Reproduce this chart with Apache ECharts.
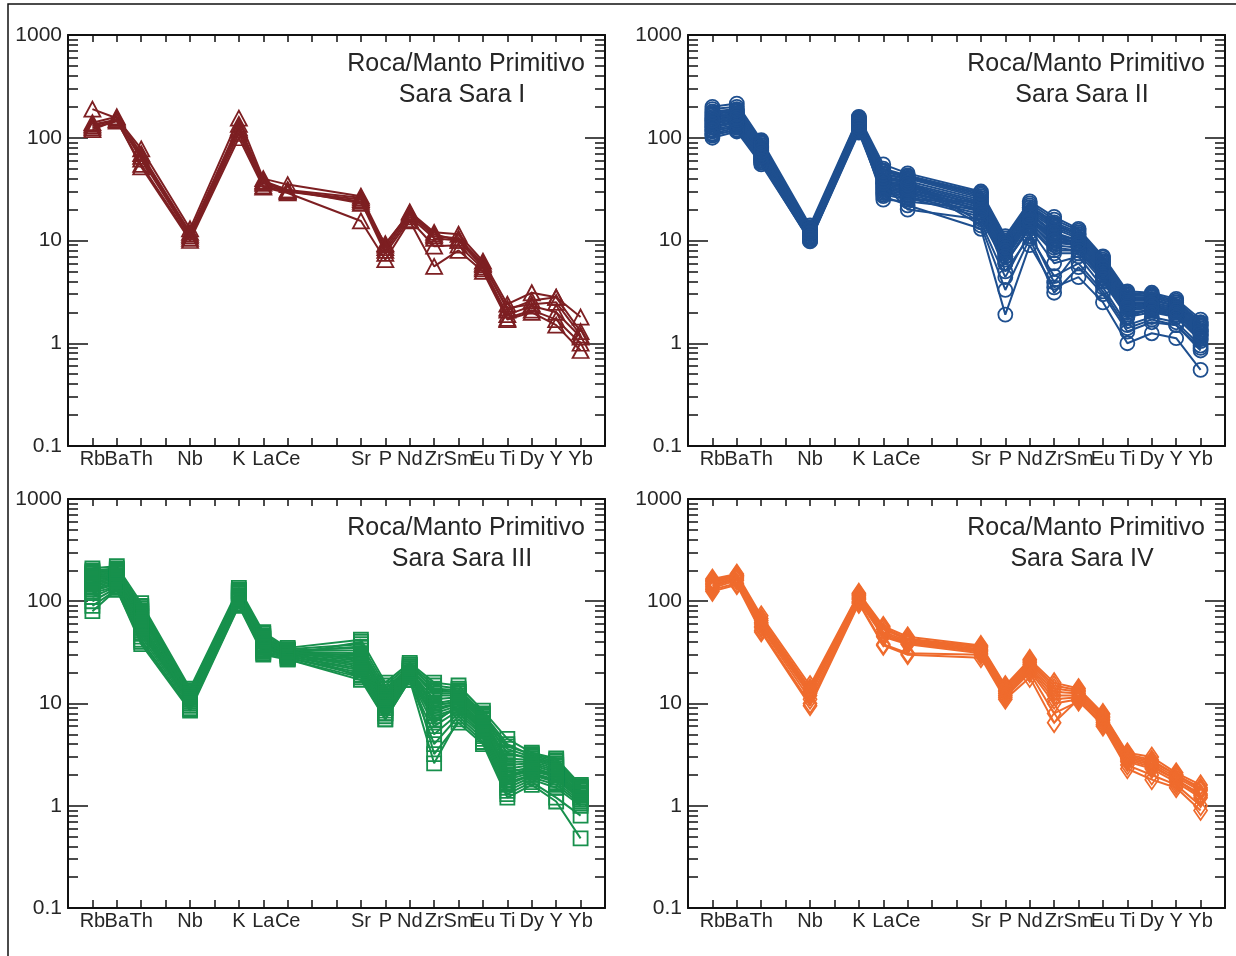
<!DOCTYPE html>
<html>
<head>
<meta charset="utf-8">
<title>Roca/Manto Primitivo - Sara Sara</title>
<script src="https://cdn.jsdelivr.net/npm/echarts@6/dist/echarts.min.js"></script>
<style>
    html, body { margin: 0; padding: 0; background: #fff; }
    #chart { width: 1236px; height: 956px; }
</style>
</head>
<body>
<div id="chart"></div>
<script>
"use strict";

// x axis: every element gets a tick, only some get a label
var elements = ['Rb', 'Ba', 'Th', 'U', 'Nb', 'Ta', 'K', 'La', 'Ce', 'Pb', 'Pr', 'Sr', 'P', 'Nd', 'Zr', 'Sm', 'Eu', 'Ti', 'Dy', 'Y', 'Yb'];
var tickLabels = ['Rb', 'Ba', 'Th', '', 'Nb', '', 'K', 'La', 'Ce', '', '', 'Sr', 'P', 'Nd', 'Zr', 'Sm', 'Eu', 'Ti', 'Dy', 'Y', 'Yb'];
// elements that have values in each sample row (same order as the rows)
var plotted = ['Rb', 'Ba', 'Th', 'Nb', 'K', 'La', 'Ce', 'Sr', 'P', 'Nd', 'Zr', 'Sm', 'Eu', 'Ti', 'Dy', 'Y', 'Yb'];
var yMin = 0.1;
var yMax = 1000;

var titleLine1 = 'Roca/Manto Primitivo';
var titles = ['Sara Sara I', 'Sara Sara II', 'Sara Sara III', 'Sara Sara IV'];

// Roca / manto primitivo, una fila por muestra
var saraI = [
    [190, 155, 78, 13, 155, 40, 35, 27, 9, 19, 12, 11.5, 6.3, 2.4, 3.1, 2.8, 1.8],
    [140, 160, 70, 12, 135, 38, 31, 26, 8.5, 18, 11, 10.5, 6, 2.1, 2.6, 2.8, 1.3],
    [130, 150, 62, 11, 120, 36, 30, 25, 8, 17, 10.5, 10, 5.5, 1.9, 2.3, 2.0, 1.15],
    [125, 145, 55, 10.5, 110, 34, 30, 24, 7.5, 16, 8.8, 9, 5.3, 1.75, 2.1, 1.7, 1.0],
    [120, 148, 52, 10, 100, 33, 29, 15.5, 6.5, 15.5, 5.6, 8, 5, 1.7, 2.0, 1.5, 0.85],
    [135, 150, 66, 11.5, 125, 37, 31, 23, 9.3, 18.5, 11.5, 10, 5.8, 2.2, 2.4, 2.5, 1.2]
];
var saraII = [
    [200, 215, 95, 14, 160, 55, 45, 30, 11, 24, 17, 13, 7, 3.2, 3.1, 2.7, 1.7],
    [180, 190, 90, 13.5, 155, 48, 42, 28, 10, 22, 15, 12, 6.5, 3.0, 2.9, 2.5, 1.6],
    [170, 180, 85, 13, 150, 45, 40, 26, 9.5, 21, 14, 11.5, 6.2, 2.8, 2.8, 2.4, 1.5],
    [160, 170, 80, 12.5, 145, 42, 38, 25, 9, 20, 13.5, 11, 6, 2.7, 2.7, 2.3, 1.5],
    [150, 165, 78, 12, 140, 40, 36, 24, 8.5, 19, 13, 10.5, 5.8, 2.6, 2.6, 2.3, 1.45],
    [145, 160, 75, 12, 138, 38, 35, 23, 8.5, 18.5, 12, 10, 5.6, 2.5, 2.5, 2.2, 1.4],
    [140, 155, 72, 11.5, 135, 37, 34, 22, 8, 18, 11.5, 10, 5.5, 2.4, 2.5, 2.2, 1.35],
    [135, 150, 70, 11.5, 132, 36, 33, 22, 8, 17, 11, 9.5, 5.3, 2.4, 2.4, 2.1, 1.3],
    [130, 145, 68, 11, 130, 35, 32, 21, 7.5, 17, 10.5, 9.5, 5.2, 2.3, 2.4, 2.1, 1.3],
    [125, 140, 66, 11, 128, 34, 31, 21, 7.5, 16, 10, 9, 5, 2.2, 2.3, 2.0, 1.25],
    [120, 135, 64, 10.8, 125, 33, 30, 20, 7, 16, 9.5, 9, 4.8, 2.2, 2.3, 2.0, 1.2],
    [115, 130, 62, 10.5, 122, 32, 29, 20, 7, 15, 9, 8.5, 4.6, 2.1, 2.2, 1.9, 1.2],
    [110, 125, 60, 10.5, 120, 31, 28, 19, 6.5, 15, 8.5, 8, 4.5, 2.0, 2.1, 1.9, 1.15],
    [105, 120, 58, 10, 118, 30, 27, 18, 6, 14, 8, 8, 4.3, 1.9, 2.1, 1.8, 1.1],
    [100, 115, 55, 10, 115, 29, 26, 17, 6, 13.5, 7.5, 7.5, 4, 1.8, 2.0, 1.8, 1.05],
    [190, 200, 92, 13, 158, 50, 43, 29, 10.5, 23, 16, 12.5, 6.8, 3.1, 3.0, 2.6, 1.6],
    [165, 175, 82, 12.5, 148, 44, 39, 15, 4.4, 12, 3.9, 8, 4.2, 1.8, 2.2, 2.0, 1.1],
    [155, 168, 76, 12, 142, 41, 37, 14, 3.3, 10.5, 3.1, 5.5, 3, 1.3, 1.6, 1.5, 0.9],
    [118, 128, 60, 10, 118, 27, 22, 13, 1.9, 9, 3.5, 4.4, 2.5, 1.0, 1.25, 1.12, 0.55],
    [138, 150, 70, 11, 133, 36, 20, 16, 6, 13, 6, 7, 3.5, 1.5, 1.8, 1.6, 0.95],
    [128, 142, 65, 10.5, 127, 25, 24, 20, 5, 11, 4.5, 6, 3.2, 1.4, 1.7, 1.5, 0.85],
    [175, 185, 88, 13, 152, 47, 41, 27, 9.5, 21, 14.5, 11.5, 6.3, 2.9, 2.9, 2.5, 1.55],
    [108, 118, 57, 9.8, 112, 28, 25, 24, 7, 15.5, 12, 9, 5, 2.2, 2.2, 2.0, 1.2],
    [147, 158, 74, 11.8, 137, 38, 35, 19, 8, 17, 10, 9.5, 5.4, 2.3, 2.4, 2.1, 1.3]
];
var saraIII = [
    [210, 220, 96, 14, 135, 50, 35, 42, 16, 25, 16, 15, 8.5, 4.5, 3.3, 2.9, 1.6],
    [200, 210, 90, 13.5, 130, 48, 34, 38, 15, 24, 15, 14, 8, 4, 3.1, 2.7, 1.55],
    [190, 200, 85, 13, 128, 46, 33, 35, 14, 23, 14, 13.5, 7.8, 3.6, 3.0, 2.6, 1.5],
    [180, 190, 80, 12.5, 125, 44, 33, 33, 13, 22, 13, 13, 7.5, 3.2, 2.9, 2.5, 1.5],
    [170, 180, 75, 12, 122, 42, 32, 31, 12, 22, 12, 12, 7.2, 2.9, 2.8, 2.4, 1.45],
    [160, 175, 70, 12, 120, 40, 32, 29, 11, 21, 11, 11.5, 7, 2.7, 2.7, 2.3, 1.4],
    [155, 170, 66, 11.5, 118, 39, 31, 28, 10.5, 21, 10, 11, 6.8, 2.5, 2.6, 2.2, 1.35],
    [150, 165, 62, 11, 115, 38, 31, 26, 10, 20, 9.5, 10.5, 6.5, 2.3, 2.5, 2.1, 1.3],
    [145, 160, 58, 11, 112, 37, 30, 25, 9.5, 20, 9, 10, 6.2, 2.1, 2.4, 2.0, 1.3],
    [140, 155, 55, 10.5, 110, 36, 30, 24, 9, 19, 8.5, 10, 6, 2.0, 2.3, 2.0, 1.25],
    [135, 150, 52, 10.5, 108, 35, 30, 23, 9, 19, 8, 9.5, 5.8, 1.9, 2.2, 1.9, 1.2],
    [130, 145, 50, 10, 105, 35, 29, 22, 8.5, 18, 7.5, 9, 5.5, 1.8, 2.1, 1.8, 1.2],
    [120, 140, 48, 10, 102, 34, 29, 21, 8, 18, 7, 9, 5.3, 1.7, 2.0, 1.8, 1.15],
    [110, 140, 45, 9.5, 100, 33, 28, 20, 8, 18, 6, 8.5, 5, 1.6, 2.0, 1.7, 1.1],
    [100, 135, 42, 9, 96, 32, 28, 19, 7.5, 17, 5, 8, 4.8, 1.5, 1.9, 1.6, 1.05],
    [90, 130, 40, 8.8, 92, 31, 27, 18, 7, 17, 4, 7.5, 4.5, 1.4, 1.8, 1.5, 1.0],
    [80, 130, 38, 8.5, 90, 30, 27, 17, 7, 17, 2.6, 7, 4.2, 1.3, 1.7, 1.2, 0.8],
    [175, 185, 78, 12, 124, 43, 32, 36, 12, 23, 3.2, 6.5, 4, 1.2, 1.6, 1.1, 0.48],
    [165, 178, 72, 11.5, 121, 41, 31, 30, 11.5, 22, 12.5, 12.5, 7.5, 3.8, 3.2, 2.8, 1.6],
    [125, 148, 60, 10.5, 107, 36, 30, 40, 8, 20, 10, 10, 6.3, 2.2, 2.3, 2.0, 1.3],
    [195, 205, 88, 13, 127, 45, 33, 18, 14, 21, 6.5, 9.5, 5.5, 2.0, 2.2, 2.0, 1.2],
    [185, 195, 82, 12.5, 126, 43, 32, 27, 12.5, 24, 13.5, 13, 7.5, 3.3, 2.9, 2.5, 1.5]
];
var saraIV = [
    [165, 185, 72, 15, 120, 57, 45, 37, 15, 27, 16, 14, 8, 3.3, 3.0, 2.1, 1.6],
    [160, 180, 68, 14, 117, 55, 43, 36, 14.5, 26, 15, 13.5, 7.8, 3.2, 2.8, 2.0, 1.5],
    [155, 178, 65, 13.5, 114, 53, 42, 35, 14, 25, 14, 13, 7.5, 3.1, 2.7, 2.0, 1.45],
    [150, 175, 62, 13, 110, 50, 41, 34, 13.5, 24, 13, 12.5, 7.3, 3.0, 2.6, 1.9, 1.4],
    [145, 170, 60, 12.5, 107, 48, 40, 33, 13, 23, 12, 12, 7, 2.9, 2.5, 1.8, 1.3],
    [140, 165, 57, 12, 104, 46, 39, 32, 12.5, 22, 11, 11.5, 6.8, 2.8, 2.4, 1.8, 1.25],
    [135, 160, 55, 11, 100, 45, 38, 31, 12, 21, 10, 11, 6.5, 2.7, 2.3, 1.7, 1.2],
    [130, 150, 52, 10, 97, 38, 31, 30, 11.5, 20, 8, 10.5, 6.2, 2.5, 2.0, 1.6, 1.0],
    [125, 145, 50, 9.5, 95, 37, 30, 28, 11, 18, 6.5, 11, 6, 2.3, 1.8, 1.5, 0.9]
];

var groups = [saraI, saraII, saraIII, saraIV];
var colors = ['#7d1f22', '#1e4f8f', '#17904c', '#ef6b2d'];
var symbols = ['triangle', 'circle', 'rect', 'diamond'];
var symbolSizes = [[16, 15], 14, 14, [13, 19]];
// grid boxes (px)
var boxes = [
    { left: 68, top: 35, height: 411 },
    { left: 688, top: 35, height: 411 },
    { left: 68, top: 499, height: 409 },
    { left: 688, top: 499, height: 409 }
];
var boxWidth = 537;

var FONT = '"Liberation Sans", Arial, Helvetica, sans-serif';
var AXIS_COLOR = '#111';
var TEXT_COLOR = '#262626';

// ticks de 2..9 en cada década (eje auxiliar en escala log10)
var minorTicks = [];
for (var d = Math.log10(yMin); d < Math.log10(yMax); d++) {
    for (var m = 2; m <= 9; m++) {
        minorTicks.push(d + Math.log10(m));
    }
}

var grid = [];
var xAxis = [];
var yAxis = [];
var series = [];
var graphic = [{
    type: 'rect',
    shape: { x: 8, y: 4, width: 1240, height: 960 },
    style: { fill: 'none', stroke: AXIS_COLOR, lineWidth: 1.5 },
    silent: true
}];

function axisLine(show) {
    return { show: show, onZero: false, lineStyle: { color: AXIS_COLOR, width: 2 } };
}

boxes.forEach(function(b, p) {
    grid.push({ left: b.left, top: b.top, width: boxWidth, height: b.height, outerBoundsMode: 'none' });

    // abajo: etiquetas de elementos
    xAxis.push({
        type: 'value', gridIndex: p, position: 'bottom', min: 0, max: elements.length + 1, interval: 1,
        axisLine: axisLine(true),
        axisTick: { inside: true, length: 8, lineStyle: { color: AXIS_COLOR, width: 1.5 } },
        axisLabel: {
            margin: 3, color: TEXT_COLOR, fontSize: 20, fontFamily: FONT,
            formatter: function(v) { return tickLabels[v - 1] || ''; }
        },
        splitLine: { show: false }
    });
    // arriba: solo ticks
    xAxis.push({
        type: 'value', gridIndex: p, position: 'top', min: 0, max: elements.length + 1, interval: 1,
        axisLine: axisLine(true),
        axisTick: { inside: true, length: 7, lineStyle: { color: AXIS_COLOR, width: 1.5 } },
        axisLabel: { show: false },
        splitLine: { show: false }
    });
    // eje log izquierdo con etiquetas
    yAxis.push({
        type: 'log', logBase: 10, gridIndex: p, position: 'left', min: yMin, max: yMax,
        axisLine: axisLine(true),
        axisTick: { inside: true, length: 20, lineStyle: { color: AXIS_COLOR, width: 1.5 } },
        axisLabel: {
            margin: 6, color: TEXT_COLOR, fontSize: 21, fontFamily: FONT,
            formatter: function(v) { return String(+v.toPrecision(4)); }
        },
        splitLine: { show: false }
    });
    // eje log derecho
    yAxis.push({
        type: 'log', logBase: 10, gridIndex: p, position: 'right', min: yMin, max: yMax,
        axisLine: axisLine(true),
        axisTick: { inside: true, length: 20, lineStyle: { color: AXIS_COLOR, width: 1.5 } },
        axisLabel: { show: false },
        splitLine: { show: false }
    });
    // ticks menores izquierda / derecha
    ['left', 'right'].forEach(function(side) {
        yAxis.push({
            type: 'value', gridIndex: p, position: side,
            min: Math.log10(yMin), max: Math.log10(yMax),
            axisLine: axisLine(false),
            axisTick: { inside: true, length: 10, customValues: minorTicks, lineStyle: { color: AXIS_COLOR, width: 1.5 } },
            axisLabel: { show: false },
            splitLine: { show: false }
        });
    });

    // títulos
    var cx = b.left + 398;
    graphic.push({
        type: 'text', x: cx, y: b.top + 29, silent: true,
        style: { text: titleLine1, align: 'center', verticalAlign: 'middle', fontSize: 25, fontFamily: FONT, fill: TEXT_COLOR }
    });
    graphic.push({
        type: 'text', x: cx - 4, y: b.top + 60, silent: true,
        style: { text: titles[p], align: 'center', verticalAlign: 'middle', fontSize: 25, fontFamily: FONT, fill: TEXT_COLOR }
    });

    // una línea por muestra
    groups[p].forEach(function(row) {
        series.push({
            type: 'line',
            xAxisIndex: p * 2,
            yAxisIndex: p * 4,
            data: row.map(function(v, i) {
                return [elements.indexOf(plotted[i]) + 1, v];
            }),
            symbol: symbols[p],
            symbolSize: symbolSizes[p],
            showAllSymbol: true,
            lineStyle: { color: colors[p], width: 2 },
            itemStyle: { color: 'rgba(255,255,255,0)', borderColor: colors[p], borderWidth: 1.8 },
            emphasis: { disabled: true },
            silent: true,
            animation: false
        });
    });
});

var myChart = echarts.init(document.getElementById('chart'));
myChart.setOption({
    backgroundColor: '#fff',
    animation: false,
    grid: grid,
    xAxis: xAxis,
    yAxis: yAxis,
    series: series,
    graphic: graphic
});
</script>
</body>
</html>
